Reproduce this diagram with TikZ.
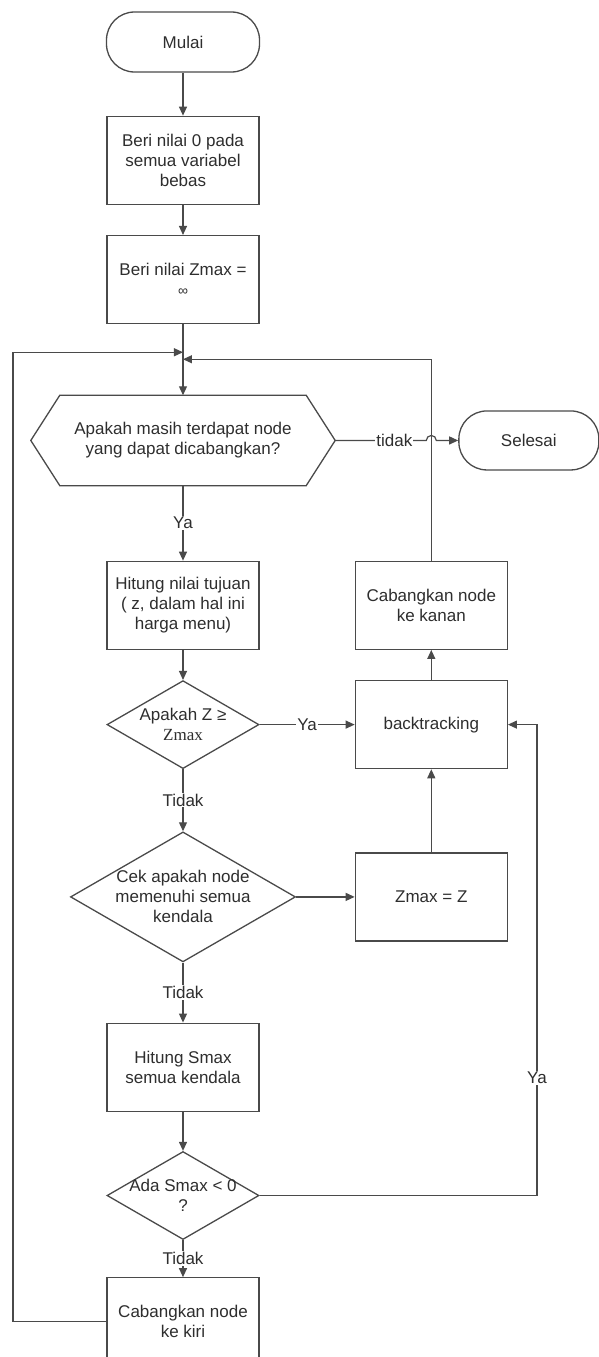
\documentclass[tikz,border=0pt]{standalone}
\usepackage{fontspec}
\setmainfont{Liberation Sans}
\newfontfamily\serifzmax{Liberation Serif}
\usetikzlibrary{calc, positioning, arrows.meta, shapes.geometric}
\definecolor{inkGrey}{HTML}{2E2E2E}
\definecolor{lineGrey}{HTML}{4A4A4A}
\tikzset{
  box/.style    = {draw=lineGrey, line width=1.3pt, fill=white, align=center, text=inkGrey,
                   font=\fontsize{17}{20}\selectfont, inner sep=2pt,
                   minimum width=152pt, minimum height=88pt},
  term/.style   = {box, rounded corners=28pt, minimum height=60pt},
  dec/.style    = {diamond, draw=lineGrey, line width=1.3pt, fill=white, inner sep=0pt},
  dectxt/.style = {align=center, text=inkGrey, font=\fontsize{17}{20}\selectfont, inner sep=0pt},
  fl/.style     = {-{Triangle[length=9pt, width=8pt]}, draw=lineGrey, line width=1.2pt},
  ln/.style     = {draw=lineGrey, line width=1.3pt},
  lbl/.style    = {fill=white, text=inkGrey, font=\fontsize{17}{20}\selectfont, inner sep=1pt}
}

\begin{document}
\begin{tikzpicture}[x=1pt, y=1pt, node distance=30pt]
  \useasboundingbox (-183,42) rectangle (416,-1315);
  % main column
  \node[term, minimum width=153pt] (mulai) at (0,0) {Mulai};
  \node[box, below=43pt of mulai] (nol) {Beri nilai 0 pada\\semua variabel\\bebas};
  \node[box, below=30pt of nol] (inf) {Beri nilai Zmax =\\{\fontsize{14}{18}\selectfont ∞}};
  \node[dectxt, minimum width=304pt, minimum height=90pt, below=71pt of inf] (hx) {Apakah masih terdapat node\\yang dapat dicabangkan?};
  \draw[ln] ([xshift=29pt]hx.north west) -- ([xshift=-29pt]hx.north east) -- (hx.east)
    -- ([xshift=-29pt]hx.south east) -- ([xshift=29pt]hx.south west) -- (hx.west) -- cycle;
  \node[term, minimum width=140pt, minimum height=59pt, right=123pt of hx] (selesai) {Selesai};
  \node[box, below=75pt of hx] (tujuan) {Hitung nilai tujuan\\( z, dalam hal ini\\harga menu)};
  \node[dec, minimum width=152pt, minimum height=88pt, below=30pt of tujuan] (zcek) {};
  \node[dectxt] at (zcek) {Apakah Z ≥\\{\serifzmax Zmax}};
  \node[dec, minimum width=225pt, minimum height=130pt, below=62pt of zcek] (kendala) {};
  \node[dectxt] at (kendala) {Cek apakah node\\memenuhi semua\\kendala};
  \node[box, below=60pt of kendala] (smax) {Hitung Smax\\semua kendala};
  \node[dec, minimum width=152pt, minimum height=88pt, below=39pt of smax] (ada) {};
  \node[dectxt] at (ada) {Ada Smax < 0\\?};
  \node[box, below=37pt of ada] (kiri) {Cabangkan node\\ke kiri};
  % right column
  \node[box, right=95pt of tujuan] (kanan) {Cabangkan node\\ke kanan};
  \node[box, below=30pt of kanan] (back) {backtracking};
  \node[box, below=83pt of back] (zz) {Zmax = Z};

  \coordinate (jl) at ($(inf.south)+(0,-28)$);
  \coordinate (jr) at ($(inf.south)+(0,-35)$);
  \coordinate (lp) at ($(jl)+(-170,0)$);
  \coordinate (rp) at ($(back.east)+(29,0)$);
  \coordinate (hop) at ($(kanan.north |- hx.east)+(-5,0)$);

  \draw[fl] (mulai) -- (nol);
  \draw[fl] (nol) -- (inf);
  \draw[fl] (inf) -- (hx);
  \draw[fl] (hx) -- node[lbl]{Ya} (tujuan);
  \draw[fl] (hx.east) -- node[lbl, pos=0.65]{tidak} (hop)
    arc[start angle=180, end angle=0, radius=5] -- (selesai);
  \draw[fl] (tujuan) -- (zcek);
  \draw[fl] (zcek) -- node[lbl]{Ya} (back);
  \draw[fl] (zcek) -- node[lbl]{Tidak} (kendala);
  \draw[fl] (kendala) -- (zz);
  \draw[fl] (zz) -- (back);
  \draw[fl] (back) -- (kanan);
  \draw[fl] (kanan.north) |- (jr);
  \draw[fl] (kendala) -- node[lbl]{Tidak} (smax);
  \draw[fl] (smax) -- (ada);
  \draw[fl] (ada) -- node[lbl]{Tidak} (kiri);
  \draw[fl] (ada.east) -| node[lbl, pos=0.625]{Ya} (rp) -- (back.east);
  \draw[fl] (kiri.west) -| (lp) -- (jl);
\end{tikzpicture}
\end{document}
